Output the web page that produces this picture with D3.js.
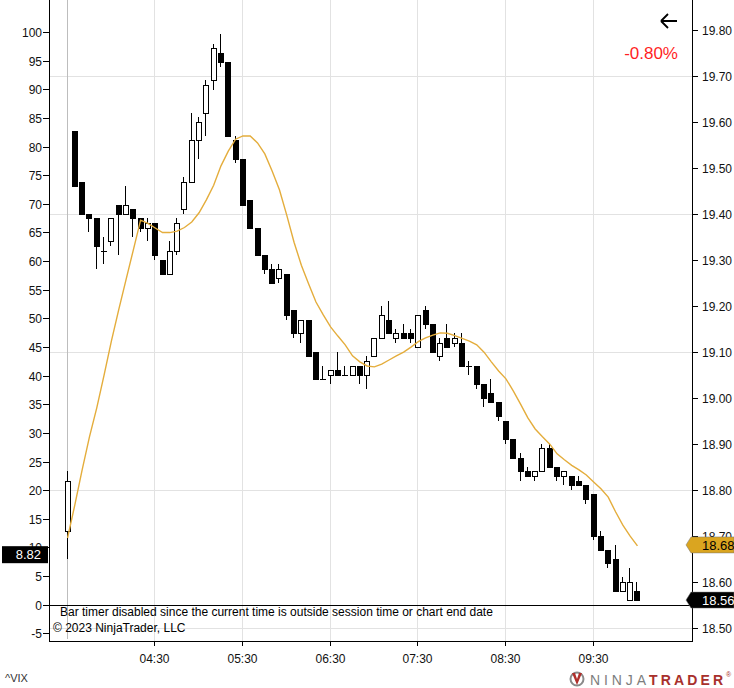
<!DOCTYPE html>
<html>
<head>
<meta charset="utf-8">
<script src="https://cdn.jsdelivr.net/npm/d3@7"></script>
<style>
  body { margin: 0; background: #fff; }
  text { font-family: "Liberation Sans", Arial, sans-serif; }
</style>
</head>
<body>
<script>
// ^VIX 5 minute bars, session start 03:30
var barStart = "03:30";
var opens  = [18.71,19.58,19.47,19.40,19.39,19.32,19.34,19.42,19.40,19.41,19.39,19.37,19.38,19.30,19.27,19.32,19.41,19.47,19.56,19.62,
              19.69,19.75,19.73,19.56,19.52,19.43,19.37,19.31,19.28,19.26,19.27,19.19,19.14,19.17,19.10,19.04,19.05,19.06,19.05,19.05,
              19.07,19.05,19.09,19.13,19.17,19.13,19.14,19.14,19.11,19.19,19.16,19.09,19.13,19.12,19.12,19.07,19.07,19.03,19.01,18.99,
              18.95,18.91,18.87,18.84,18.83,18.84,18.89,18.85,18.83,18.83,18.82,18.81,18.79,18.70,18.67,18.65,18.58,18.56,18.58];
var highs  = [18.84,19.58,19.47,19.40,19.39,19.35,19.39,19.42,19.46,19.41,19.39,19.39,19.38,19.30,19.34,19.39,19.48,19.62,19.61,19.69,
              19.77,19.79,19.73,19.57,19.52,19.43,19.37,19.31,19.29,19.29,19.27,19.19,19.17,19.17,19.10,19.07,19.06,19.10,19.07,19.07,
              19.07,19.09,19.13,19.20,19.21,19.15,19.16,19.15,19.18,19.20,19.16,19.13,19.16,19.14,19.14,19.08,19.07,19.03,19.04,18.99,
              18.95,18.91,18.88,18.85,18.84,18.90,18.90,18.85,18.84,18.83,18.83,18.81,18.79,18.71,18.67,18.68,18.61,18.63,18.60];
var lows   = [18.65,19.46,19.40,19.36,19.28,19.29,19.33,19.31,19.40,19.35,19.36,19.34,19.30,19.27,19.27,19.31,19.40,19.47,19.52,19.57,
              19.67,19.72,19.57,19.51,19.42,19.37,19.31,19.27,19.25,19.25,19.17,19.13,19.12,19.09,19.04,19.04,19.03,19.05,19.05,19.05,
              19.03,19.02,19.09,19.13,19.14,19.12,19.13,19.12,19.11,19.15,19.10,19.08,19.11,19.11,19.07,19.05,19.02,18.98,18.99,18.95,
              18.90,18.87,18.82,18.83,18.82,18.84,18.85,18.82,18.81,18.80,18.81,18.77,18.69,18.67,18.63,18.58,18.58,18.56,18.56];
var closes = [18.82,19.46,19.40,19.39,19.33,19.32,19.39,19.40,19.42,19.39,19.37,19.38,19.31,19.27,19.32,19.38,19.47,19.56,19.60,19.68,
              19.76,19.73,19.57,19.52,19.42,19.37,19.31,19.28,19.25,19.28,19.18,19.14,19.17,19.09,19.04,19.04,19.06,19.05,19.05,19.07,
              19.05,19.08,19.13,19.18,19.14,19.14,19.13,19.13,19.18,19.16,19.10,19.12,19.11,19.13,19.07,19.07,19.03,19.00,18.99,18.96,
              18.91,18.87,18.84,18.83,18.84,18.89,18.85,18.83,18.84,18.81,18.81,18.78,18.70,18.67,18.64,18.58,18.60,18.60,18.56];
var ema    = [18.695,18.767,18.843,18.915,18.978,19.049,19.123,19.191,19.256,19.321,19.386,19.379,19.369,19.359,19.359,19.362,19.370,19.382,19.402,19.430,
              19.462,19.504,19.536,19.562,19.569,19.569,19.554,19.530,19.493,19.452,19.397,19.338,19.288,19.247,19.208,19.180,19.154,19.134,19.115,19.091,
              19.078,19.069,19.067,19.073,19.082,19.091,19.099,19.110,19.122,19.130,19.136,19.141,19.140,19.135,19.129,19.123,19.115,19.099,19.078,19.058,
              19.041,19.015,18.986,18.956,18.932,18.915,18.899,18.878,18.865,18.853,18.843,18.832,18.817,18.802,18.784,18.752,18.723,18.699,18.678];

var timeTicks  = ["04:30","05:30","06:30","07:30","08:30","09:30"];
var rightTicks = [18.5,18.6,18.7,18.8,18.9,19.0,19.1,19.2,19.3,19.4,19.5,19.6,19.7,19.8];
var rightGrid  = [18.5,18.8,19.1,19.4,19.7];
var leftTicks  = [-5,0,5,10,15,20,25,30,35,40,45,50,55,60,65,70,75,80,85,90,95,100];
var leftMarker = 8.82;
var emaLast = 18.68, priceLast = 18.56;
var changeText = "-0.80%";

var W = 734, H = 688;
var L = 49, R = 692, T = 0, B = 641;

var parseT = d3.timeParse("%H:%M");
var t0 = parseT(barStart);
var times = d3.range(opens.length).map(function(i) { return d3.timeMinute.offset(t0, 5 * i); });

var x = d3.scaleTime()
    .domain([d3.timeMinute.offset(t0, -12), d3.timeMinute.offset(t0, 428.9)])
    .range([L, R]);
var yR = d3.scaleLinear().domain([18.4711, 19.8646]).range([B, T]);
var yL = d3.scaleLinear().domain([-6.34, 105.59]).range([B, T]);

var svg = d3.select("body").append("svg")
    .attr("width", W).attr("height", H);

svg.append("rect").attr("width", W).attr("height", H).attr("fill", "#fff");

// grid
svg.append("g").selectAll("line").data(timeTicks).enter().append("line")
    .attr("x1", function(d) { return Math.round(x(parseT(d))) + 0.5; })
    .attr("x2", function(d) { return Math.round(x(parseT(d))) + 0.5; })
    .attr("y1", T).attr("y2", B)
    .attr("stroke", "#e2e2e2");
svg.append("g").selectAll("line").data(rightGrid).enter().append("line")
    .attr("x1", L).attr("x2", R)
    .attr("y1", function(d) { return Math.round(yR(d)) + 0.5; })
    .attr("y2", function(d) { return Math.round(yR(d)) + 0.5; })
    .attr("stroke", "#e2e2e2");
// session break
svg.append("line")
    .attr("x1", Math.round(x(t0)) + 0.5).attr("x2", Math.round(x(t0)) + 0.5)
    .attr("y1", T).attr("y2", B - 2)
    .attr("stroke", "#bdbdbd");

// zero line of left scale
svg.append("line")
    .attr("x1", L).attr("x2", R)
    .attr("y1", Math.round(yL(0)) + 0.5).attr("y2", Math.round(yL(0)) + 0.5)
    .attr("stroke", "#000");

// candles
var bw = 5;
var candles = svg.append("g").attr("shape-rendering", "crispEdges");
d3.range(opens.length).forEach(function(i) {
  var cx = Math.round(x(times[i])) + 0.5;
  var up = closes[i] >= opens[i];
  var top = Math.round(yR(Math.max(opens[i], closes[i])));
  var bot = Math.round(yR(Math.min(opens[i], closes[i])));
  candles.append("line")
      .attr("x1", cx).attr("x2", cx)
      .attr("y1", yR(highs[i])).attr("y2", yR(lows[i]))
      .attr("stroke", "#000");
  if (bot - top < 1) {
    candles.append("line")
        .attr("x1", cx - bw / 2 - 0.5).attr("x2", cx + bw / 2 + 0.5)
        .attr("y1", top + 0.5).attr("y2", top + 0.5)
        .attr("stroke", "#000");
  } else if (up) {
    candles.append("rect")
        .attr("x", cx - bw / 2).attr("y", top + 0.5)
        .attr("width", bw).attr("height", bot - top)
        .attr("fill", "#fff").attr("stroke", "#000");
  } else {
    candles.append("rect")
        .attr("x", cx - bw / 2 - 0.5).attr("y", top)
        .attr("width", bw + 1).attr("height", bot - top + 1)
        .attr("fill", "#000");
  }
});

// ema
svg.append("path")
    .datum(ema)
    .attr("fill", "none")
    .attr("stroke", "#e4ad3c")
    .attr("stroke-width", 1.4)
    .attr("d", d3.line()
        .x(function(d, i) { return x(times[i]) + 1; })
        .y(function(d) { return yR(d); }));

// axes frame
svg.append("line").attr("x1", L + 0.5).attr("x2", L + 0.5).attr("y1", T).attr("y2", B + 0.5).attr("stroke", "#000");
svg.append("line").attr("x1", R + 0.5).attr("x2", R + 0.5).attr("y1", T).attr("y2", B + 0.5).attr("stroke", "#000");
svg.append("line").attr("x1", L).attr("x2", R + 1).attr("y1", B + 0.5).attr("y2", B + 0.5).attr("stroke", "#000");

// bottom time axis
var xAxis = svg.append("g");
timeTicks.forEach(function(d) {
  var px = Math.round(x(parseT(d))) + 0.5;
  xAxis.append("line").attr("x1", px).attr("x2", px).attr("y1", B).attr("y2", B + 5).attr("stroke", "#000");
  xAxis.append("text").attr("x", px).attr("y", 663).attr("text-anchor", "middle")
      .attr("font-size", 12).attr("fill", "#111").text(d);
});

// left axis
var lAxis = svg.append("g");
leftTicks.forEach(function(d) {
  var py = Math.round(yL(d)) + 0.5;
  lAxis.append("line").attr("x1", L - 6).attr("x2", L).attr("y1", py).attr("y2", py).attr("stroke", "#000");
  lAxis.append("text").attr("x", 42).attr("y", py + 4).attr("text-anchor", "end")
      .attr("font-size", 12).attr("fill", "#111").text(d);
});

// right axis
var fmt = d3.format(".2f");
var rAxis = svg.append("g");
rightTicks.forEach(function(d) {
  var py = Math.round(yR(d)) + 0.5;
  rAxis.append("line").attr("x1", R).attr("x2", R + 6).attr("y1", py).attr("y2", py).attr("stroke", "#000");
  rAxis.append("text").attr("x", 702).attr("y", py + 4)
      .attr("font-size", 12).attr("fill", "#111").text(fmt(d));
});

// price markers
function marker(val, fill, color) {
  var py = yR(val);
  svg.append("path")
      .attr("d", "M686," + py + "L691," + (py - 8) + "L734," + (py - 8) + "L734," + (py + 8) + "L691," + (py + 8) + "Z")
      .attr("fill", fill).attr("stroke", "#777").attr("stroke-width", 0.5);
  svg.append("text").attr("x", 702).attr("y", py + 5)
      .attr("font-size", 13).attr("fill", color).text(fmt(val));
}
marker(emaLast, "#daa520", "#000");
marker(priceLast, "#000", "#fff");

// left marker
svg.append("rect").attr("x", 2).attr("y", yL(leftMarker) - 8).attr("width", 46).attr("height", 17).attr("fill", "#000");
svg.append("text").attr("x", 41).attr("y", yL(leftMarker) + 5).attr("text-anchor", "end")
    .attr("font-size", 13).attr("fill", "#fff").text(leftMarker);

// notes
svg.append("text").attr("x", 60).attr("y", 616).attr("font-size", 12).attr("fill", "#000")
    .text("Bar timer disabled since the current time is outside session time or chart end date");
svg.append("text").attr("x", 53).attr("y", 632).attr("font-size", 12).attr("fill", "#000")
    .text("\u00A9 2023 NinjaTrader, LLC");

// change box
svg.append("path").attr("d", "M661,21L677,21M661,21L668,14M661,21L668,28")
    .attr("stroke", "#000").attr("stroke-width", 1.8).attr("fill", "none");
svg.append("text").attr("x", 678).attr("y", 59).attr("text-anchor", "end")
    .attr("font-size", 17).attr("fill", "#ff1f1f").text(changeText);

// instrument + logo
svg.append("text").attr("x", 5).attr("y", 682).attr("font-size", 11).attr("fill", "#333").text("^VIX");
var logo = svg.append("g");
logo.append("circle").attr("cx", 577).attr("cy", 679).attr("r", 6.5).attr("fill", "none")
    .attr("stroke", "#8a8a8a").attr("stroke-width", 2);
logo.append("path").attr("d", "M572,673L577,685L582,673L579,673L577,679L575,673Z").attr("fill", "#b0302c");
logo.append("text").attr("x", 590).attr("y", 685).attr("font-size", 14)
    .attr("textLength", 56).attr("lengthAdjust", "spacing")
    .attr("fill", "#7d7d7d").text("NINJA");
logo.append("text").attr("x", 649).attr("y", 685).attr("font-size", 14)
    .attr("textLength", 74).attr("lengthAdjust", "spacing")
    .attr("font-weight", "bold").attr("fill", "#a8302c").text("TRADER");
logo.append("text").attr("x", 726).attr("y", 677).attr("font-size", 7).attr("fill", "#a8302c").text("\u00AE");
</script>
</body>
</html>
